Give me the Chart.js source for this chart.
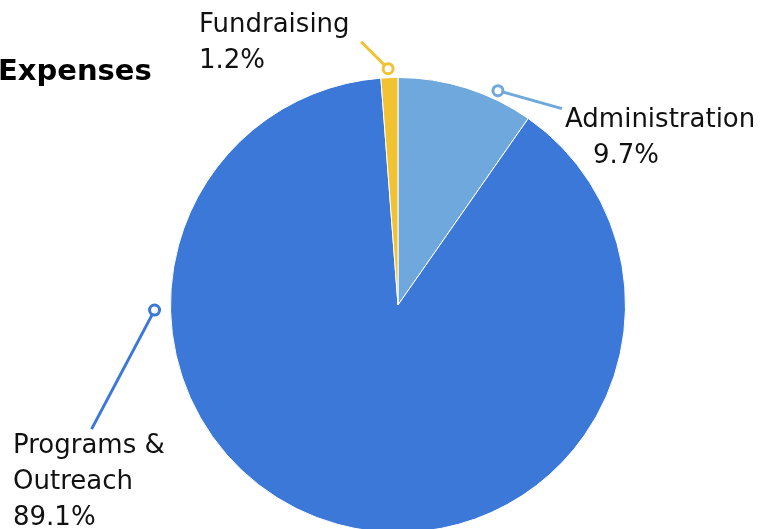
<!DOCTYPE html>
<html>
<head>
<meta charset="utf-8">
<script src="https://cdn.jsdelivr.net/npm/chart.js@4"></script>
<style>
  html, body { margin: 0; padding: 0; background: #fff; overflow: hidden; }
  #wrap { position: relative; width: 774px; height: 560px; }
</style>
</head>
<body>
<div id="wrap"><canvas id="pie"></canvas></div>
<script>
// ---------- Data ----------
var categories = ['Administration', 'Programs & Outreach', 'Fundraising'];
var shares = [9.7, 89.1, 1.2];
var colors = ['#6fa8dc', '#3c78d8', '#f1c232'];

// label text lines per slice
var labelLines = [['Administration', '9.7%'], ['Programs &', 'Outreach', '89.1%'], ['Fundraising', '1.2%']];

// ---------- Leader styling (angle from top, clockwise; extra distance beyond the rim) ----------
var leaderAngle = [25, 268.8, -2.4];
var leaderGap = [9, 16, 9];
var leaderEnd = [[64, 18], [-63, 119], [-27, -27]];
var labelPos = [[565, 127, 593], [13, 453, 13], [199, 32, 199]];

var labelsPlugin = {
    id: 'leaderLabels',
    afterDraw: function(chart) {
        var ctx = chart.ctx;
        var arcs = chart.getDatasetMeta(0).data;
        ctx.save();
        ctx.font = '26px "DejaVu Sans"';
        ctx.textBaseline = 'alphabetic';
        ctx.textAlign = 'left';
        arcs.forEach(function(arc, i) {
            var a = leaderAngle[i] * Math.PI / 180;
            var r = arc.outerRadius + leaderGap[i];
            var mx = arc.x + r * Math.sin(a);
            var my = arc.y - r * Math.cos(a);

            ctx.strokeStyle = colors[i];
            ctx.lineWidth = 3;
            ctx.beginPath();
            ctx.moveTo(mx, my);
            ctx.lineTo(mx + leaderEnd[i][0], my + leaderEnd[i][1]);
            ctx.stroke();

            ctx.beginPath();
            ctx.arc(mx, my, 5, 0, Math.PI * 2);
            ctx.fillStyle = '#fff';
            ctx.fill();
            ctx.stroke();

            ctx.fillStyle = '#111';
            var lines = labelLines[i];
            lines.forEach(function(t, j) {
                var x = (j === lines.length - 1) ? labelPos[i][2] : labelPos[i][0];
                ctx.fillText(t, x, labelPos[i][1] + j * 36);
            });
        });

        // title
        ctx.font = 'bold 29px "DejaVu Sans"';
        ctx.fillStyle = '#000';
        ctx.fillText('Expenses', -2, 80);
        ctx.restore();
    }
};

// ---------- Chart ----------
new Chart(document.getElementById('pie').getContext('2d'), {
    type: 'pie',
    data: {
        labels: categories,
        datasets: [{
            data: shares,
            backgroundColor: colors,
            borderColor: '#ffffff',
            borderWidth: 1
        }]
    },
    options: {
        responsive: true,
        maintainAspectRatio: false,
        animation: false,
        layout: { padding: { top: 77, bottom: 27, left: 170, right: 148 } },
        plugins: {
            legend: { display: false },
            tooltip: { enabled: false }
        }
    },
    plugins: [labelsPlugin]
});
</script>
</body>
</html>
